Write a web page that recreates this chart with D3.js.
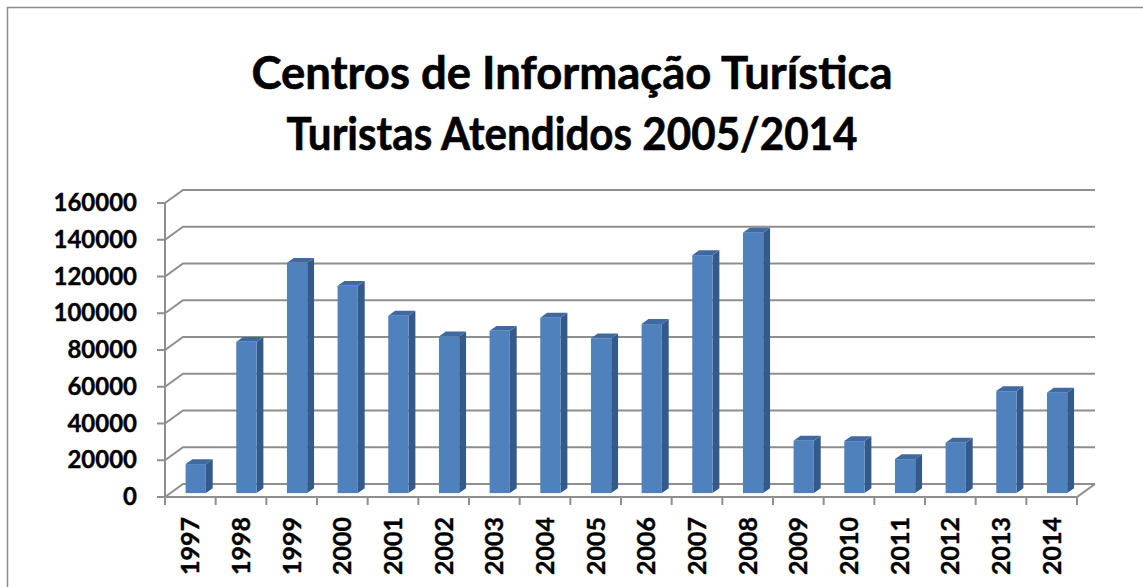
<!DOCTYPE html>
<html>
<head>
<meta charset="utf-8">
<script src="https://cdn.jsdelivr.net/npm/d3@7"></script>
<style>
  html, body { margin: 0; padding: 0; background: #fff; }
  svg { display: block; }
  text { font-family: Lato, "Open Sans", sans-serif; font-weight: bold; fill: #000; }
</style>
</head>
<body>
<div id="chart"></div>
<script>
// chart data
var years = ["1997","1998","1999","2000","2001","2002","2003","2004","2005",
             "2006","2007","2008","2009","2010","2011","2012","2013","2014"];
var visitors = [15800, 82300, 125300, 112800, 96500, 85200, 88300, 95400, 84200,
                92000, 129500, 141700, 28500, 28300, 18500, 27400, 55500, 54600];
var yTicks = [0, 20000, 40000, 60000, 80000, 100000, 120000, 140000, 160000];
var titleLines = ["Centros de Informação Turística", "Turistas Atendidos 2005/2014"];

var W = 1143, H = 587;
// depth vector of the 3d box (front plane -> back wall)
var depth = {dx: 18, dy: -13};
var barFront = 0.3, barBack = 0.68;

var svg = d3.select("#chart").append("svg")
  .attr("width", W)
  .attr("height", H);

// outer border
svg.append("rect")
  .attr("x", 7.5).attr("y", 7.5)
  .attr("width", W + 20).attr("height", H + 20)
  .attr("fill", "none")
  .attr("stroke", "#8c8c8c")
  .attr("stroke-width", 1.5);

// title
svg.selectAll("text.title")
  .data(titleLines)
  .enter()
  .append("text")
  .attr("class", "title")
  .attr("x", 572)
  .attr("y", function(d, i){ return 89 + i * 61; })
  .attr("text-anchor", "middle")
  .attr("font-size", 45)
  .attr("stroke", "#000")
  .attr("stroke-width", 0.6)
  .attr("textLength", function(d, i){ return i === 0 ? 641 : 571; })
  .attr("lengthAdjust", "spacingAndGlyphs")
  .text(function(d){ return d; });

var x = d3.scaleBand()
  .domain(years)
  .range([165, 1077])
  .paddingInner(0)
  .paddingOuter(0);

var y = d3.scaleLinear()
  .domain([0, 160000])
  .range([497, 203]);

var gridColor = "#8e8e8e";
var x0 = x.range()[0], x1 = x.range()[1];

// gridlines: left wall diagonal + back wall line
var grid = svg.append("g").attr("class", "grid");
grid.selectAll("path")
  .data(yTicks)
  .enter()
  .append("path")
  .attr("d", function(d){
    var yy = y(d);
    return "M" + x0 + "," + yy +
           "L" + (x0 + depth.dx) + "," + (yy + depth.dy) +
           "L" + (x1 + depth.dx) + "," + (yy + depth.dy);
  })
  .attr("fill", "none")
  .attr("stroke", gridColor)
  .attr("stroke-width", 2);

// floor: front edge and right edge
svg.append("path")
  .attr("d", "M" + x0 + "," + y(0) + "L" + x1 + "," + y(0) +
             "L" + (x1 + depth.dx) + "," + (y(0) + depth.dy))
  .attr("fill", "none")
  .attr("stroke", gridColor)
  .attr("stroke-width", 2);

// y axis line and ticks
svg.append("line")
  .attr("x1", x0).attr("x2", x0)
  .attr("y1", y(0)).attr("y2", y(160000))
  .attr("stroke", gridColor)
  .attr("stroke-width", 2);

svg.selectAll("line.ytick")
  .data(yTicks)
  .enter()
  .append("line")
  .attr("class", "ytick")
  .attr("x1", x0 - 8).attr("x2", x0)
  .attr("y1", function(d){ return y(d); })
  .attr("y2", function(d){ return y(d); })
  .attr("stroke", gridColor)
  .attr("stroke-width", 2);

svg.selectAll("text.ylab")
  .data(yTicks)
  .enter()
  .append("text")
  .attr("class", "ylab")
  .attr("x", 137)
  .attr("y", function(d){ return y(d) + 8; })
  .attr("text-anchor", "end")
  .attr("font-size", 24)
  .attr("stroke", "#000")
  .attr("stroke-width", 0.4)
  .text(function(d){ return d; });

// category ticks at band edges
var edges = years.map(function(d){ return x(d); }).concat([x1]);
svg.selectAll("line.xtick")
  .data(edges)
  .enter()
  .append("line")
  .attr("class", "xtick")
  .attr("x1", function(d){ return d; })
  .attr("x2", function(d){ return d; })
  .attr("y1", y(0)).attr("y2", y(0) + 8)
  .attr("stroke", gridColor)
  .attr("stroke-width", 2);

// year labels, rotated
svg.selectAll("text.xlab")
  .data(years)
  .enter()
  .append("text")
  .attr("class", "xlab")
  .attr("transform", function(d){
    return "translate(" + (x(d) + x.bandwidth() / 2 + 9) + "," + 517 + ") rotate(-90)";
  })
  .attr("text-anchor", "end")
  .attr("font-size", 25)
  .attr("stroke", "#000")
  .attr("stroke-width", 0.4)
  .text(function(d){ return d; });

// bars as 3d boxes
var barW = x.bandwidth() * 0.4;
var fdx = depth.dx * barFront, fdy = depth.dy * barFront;
var bdx = depth.dx * barBack, bdy = depth.dy * barBack;
var sdx = bdx - fdx, sdy = bdy - fdy;

var bars = svg.append("g").attr("class", "bars")
  .selectAll("g")
  .data(years.map(function(d, i){ return {year: d, value: visitors[i]}; }))
  .enter()
  .append("g");

function frontLeft(d){ return x(d.year) + (x.bandwidth() - barW) / 2 + fdx; }

// side face
bars.append("path")
  .attr("d", function(d){
    var l = frontLeft(d) + barW, t = y(d.value) + fdy, b = y(0) + fdy;
    return "M" + l + "," + b + "L" + l + "," + t +
           "L" + (l + sdx) + "," + (t + sdy) + "L" + (l + sdx) + "," + (b + sdy) + "Z";
  })
  .attr("fill", "#34598b");

// top face
bars.append("path")
  .attr("d", function(d){
    var l = frontLeft(d), t = y(d.value) + fdy;
    return "M" + l + "," + t + "L" + (l + barW) + "," + t +
           "L" + (l + barW + sdx) + "," + (t + sdy) + "L" + (l + sdx) + "," + (t + sdy) + "Z";
  })
  .attr("fill", "#3f69a0");

// front face
bars.append("rect")
  .attr("x", frontLeft)
  .attr("y", function(d){ return y(d.value) + fdy; })
  .attr("width", barW)
  .attr("height", function(d){ return y(0) - y(d.value); })
  .attr("fill", "#4f81bd");
</script>
</body>
</html>
